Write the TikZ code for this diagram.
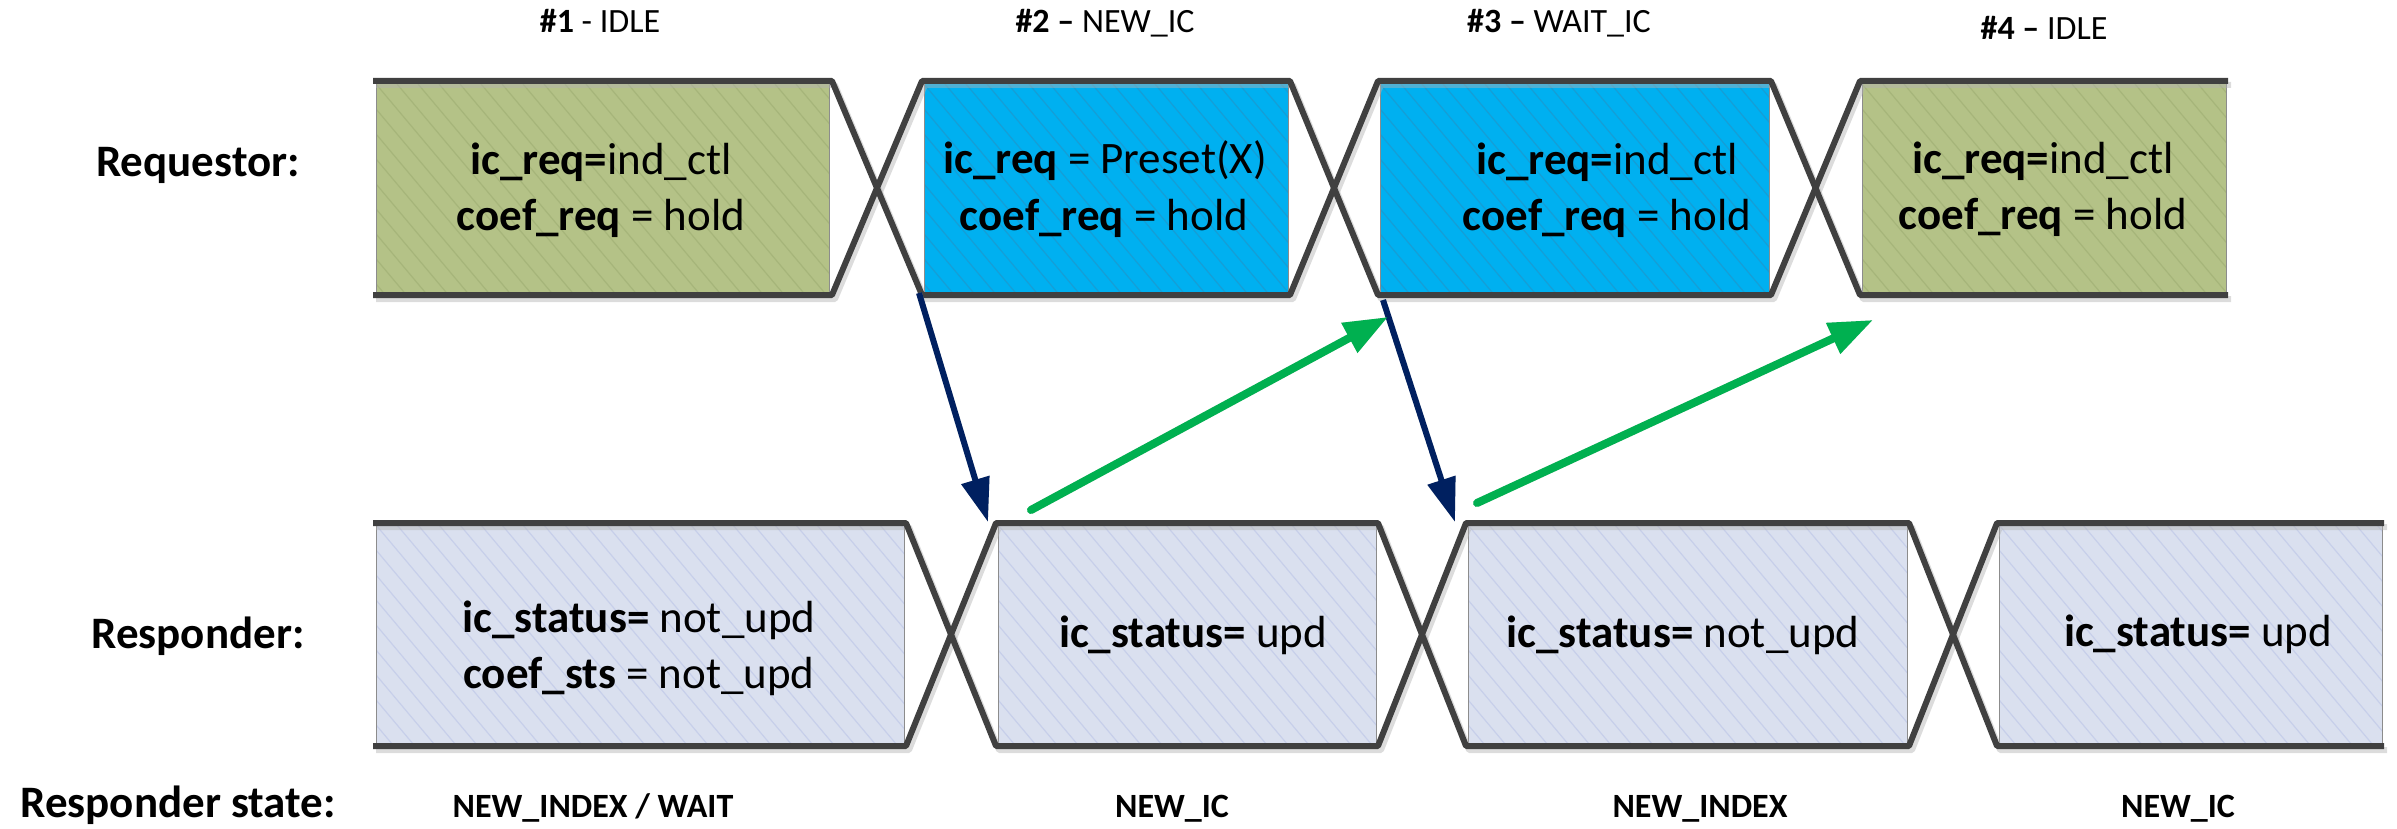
\documentclass[tikz,border=0pt]{standalone}
\usepackage{fontspec}
\setmainfont{Carlito}
\usetikzlibrary{arrows.meta,fit}

\definecolor{barGray}{RGB}{64,64,64}
\definecolor{reqGreen}{RGB}{180,194,135}
\definecolor{greenHatch}{RGB}{166,181,122}
\definecolor{reqBlue}{RGB}{0,176,240}
\definecolor{blueHatch}{RGB}{22,158,214}
\definecolor{rspLav}{RGB}{218,224,239}
\definecolor{lavHatch}{RGB}{199,207,234}
\definecolor{navyArrow}{RGB}{0,32,96}
\definecolor{greenArrow}{RGB}{0,176,80}

\begin{document}
\begin{tikzpicture}[x=1pt,y=-1pt,
  wave/.style={draw=barGray, line width=6pt, line join=round},
  waveshade/.style={draw=black!30, opacity=0.45, line width=6pt, line join=round,
    xshift=3pt, yshift=-4pt},
  hatch/.style={path picture={
    \foreach \k in {-12,...,28}{
      \draw[line width=1.2pt,#1] ([xshift=\k*21pt]path picture bounding box.north west) -- ++(190,226);
    }}},
  bus/.style={inner sep=0pt, draw=black!45, line width=1pt},
  reqidle/.style={bus, fill=reqGreen, hatch=greenHatch},
  reqic/.style={bus, fill=reqBlue, hatch=blueHatch},
  rsp/.style={bus, fill=rspLav, hatch=lavHatch},
  txt/.style={anchor=base, inner sep=0pt, font=\fontsize{45}{54}\selectfont},
  hdr/.style={anchor=base, inner sep=0pt, font=\fontsize{34}{40}\selectfont},
  rq/.style={draw=navyArrow, line width=6pt, -{Triangle[length=44pt,width=28pt]}},
  ack/.style={draw=greenArrow, line width=8pt, line cap=round, -{Triangle[length=44pt,width=32pt]}},
  arrowshade/.style={draw=black!25, opacity=0.5, xshift=3pt, yshift=-3pt}
]
\useasboundingbox (0,0) rectangle (2397,829);

% ---------- requestor bus segments ----------
\node[reqidle, fit={(376,84) (829,293)}] (r1) {};
\node[reqic,   fit={(924,84) (1288,293)}] (r2) {};
\node[reqic,   fit={(1380,84) (1769,293)}] (r3) {};
\node[reqidle, fit={(1862,84) (2226,293)}] (r4) {};

% ---------- responder bus segments ----------
\node[rsp, fit={(376,525) (904,744)}] (s1) {};
\node[rsp, fit={(998,525) (1376,744)}] (s2) {};
\node[rsp, fit={(1468,525) (1907,744)}] (s3) {};
\node[rsp, fit={(1999,525) (2382,744)}] (s4) {};

% ---------- bus outlines with transitions ----------
\foreach \st in {waveshade,wave}{
  \draw[\st] (373,81) -- (832,81) -- (922,295) -- (1290,295) -- (1378,81)
    -- (1771,81) -- (1860,295) -- (2228,295);
  \draw[\st] (373,295) -- (832,295) -- (922,81) -- (1290,81) -- (1378,295)
    -- (1771,295) -- (1860,81) -- (2228,81);
  \draw[\st] (373,523) -- (906,523) -- (996,746) -- (1378,746) -- (1466,523)
    -- (1909,523) -- (1997,746) -- (2384,746);
  \draw[\st] (373,746) -- (906,746) -- (996,523) -- (1378,523) -- (1466,746)
    -- (1909,746) -- (1997,523) -- (2384,523);
}

% ---------- handshake arrows ----------
\coordinate (q1a) at (919,293);
\coordinate (q1b) at (988,522);
\coordinate (q2a) at (1383,300);
\coordinate (q2b) at (1455,522);
\coordinate (k1a) at (1031,510);
\coordinate (k1b) at (1388,317);
\coordinate (k2a) at (1477,503);
\coordinate (k2b) at (1873,320);

\draw[rq, arrowshade]  (q1a) -- (q1b);
\draw[rq, arrowshade]  (q2a) -- (q2b);
\draw[ack, arrowshade] (k1a) -- (k1b);
\draw[ack, arrowshade] (k2a) -- (k2b);
\draw[rq]  (q1a) -- (q1b);
\draw[rq]  (q2a) -- (q2b);
\draw[ack] (k1a) -- (k1b);
\draw[ack] (k2a) -- (k2b);

% ---------- state headers ----------
\node[hdr] (h1) at (600,33)  {\textbf{\#1} - IDLE};
\node[hdr] (h2) at (1105,33) {\textbf{\#2 –} NEW\_IC};
\node[hdr] (h3) at (1559,33) {\textbf{\#3 –} WAIT\_IC};
\node[hdr] (h4) at (2044,40) {\textbf{\#4 –} IDLE};

% ---------- row labels ----------
\node[txt] (lreq) at (198,177) {\textbf{Requestor:}};
\node[txt] (lrsp) at (198,648) {\textbf{Responder:}};
\node[txt] (lst)  at (178,817) {\textbf{Responder state:}};

% ---------- requestor values ----------
\node[txt] (r1a) at (601,175)  {\textbf{ic\_req=}ind\_ctl};
\node[txt] (r1b) at (601,230)  {\textbf{coef\_req} = hold};
\node[txt] (r2a) at (1105,174) {\textbf{ic\_req} = Preset(X)};
\node[txt] (r2b) at (1104,230) {\textbf{coef\_req} = hold};
\node[txt] (r3a) at (1607,175) {\textbf{ic\_req=}ind\_ctl};
\node[txt] (r3b) at (1607,230) {\textbf{coef\_req} = hold};
\node[txt] (r4a) at (2043,174) {\textbf{ic\_req=}ind\_ctl};
\node[txt] (r4b) at (2043,229) {\textbf{coef\_req} = hold};

% ---------- responder values ----------
\node[txt] (s1a) at (639,632)  {\textbf{ic\_status=} not\_upd};
\node[txt] (s1b) at (639,688)  {\textbf{coef\_sts} = not\_upd};
\node[txt] (s2a) at (1193,647) {\textbf{ic\_status=} upd};
\node[txt] (s3a) at (1683,647) {\textbf{ic\_status=} not\_upd};
\node[txt] (s4a) at (2198,646) {\textbf{ic\_status=} upd};

% ---------- responder state names ----------
\node[hdr] (st1) at (593,817)  {\textbf{NEW\_INDEX / WAIT}};
\node[hdr] (st2) at (1172,817) {\textbf{NEW\_IC}};
\node[hdr] (st3) at (1700,817) {\textbf{NEW\_INDEX}};
\node[hdr] (st4) at (2178,817) {\textbf{NEW\_IC}};
\end{tikzpicture}
\end{document}
